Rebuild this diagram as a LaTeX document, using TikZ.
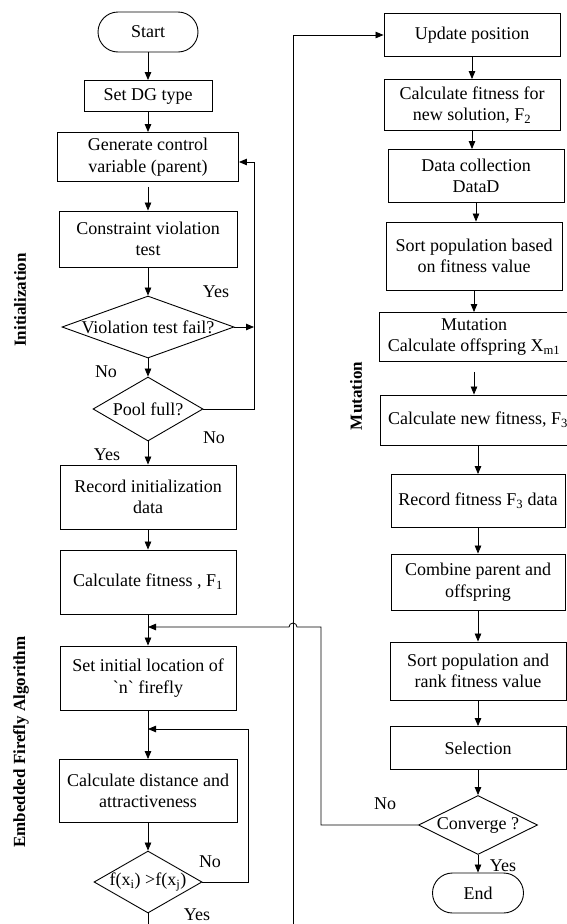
\documentclass[tikz,border=0pt]{standalone}
\usepackage{fontspec}
\setmainfont{Liberation Serif}
\newfontfamily\rawfont{Liberation Serif}
\usetikzlibrary{shapes.geometric,arrows.meta}

\begin{document}
\begin{tikzpicture}[x=1pt, y=-1pt, >={Triangle[length=8pt,width=6.5pt]},
  every node/.style={font=\fontsize{18}{21.5}\selectfont},
  box/.style={draw, line width=0.9pt, align=center, inner sep=0pt},
  term/.style={box, rounded corners=20pt, minimum height=40pt},
  decision/.style={draw, diamond, line width=0.9pt, inner sep=0pt},
  sidelabel/.style={rotate=90, font=\fontsize{17}{20}\selectfont\bfseries}]

 \useasboundingbox (0,0) rectangle (567,924);

 %left column
 \node[term, minimum width=100pt] (start) at (148,32) {Start};
 \node[box, minimum width=128pt, minimum height=31pt] (dg) at (148,96) {Set DG type};
 \node[box, minimum width=181pt, minimum height=49pt] (gen) at (148,157) {Generate control\\variable (parent)};
 \node[box, minimum width=178pt, minimum height=56pt] (cons) at (148,239) {Constraint violation\\test};
 \node[decision, minimum width=172pt, minimum height=62pt] (viol) at (148,327) {\makebox[0pt]{Violation test fail?}};
 \node[decision, minimum width=110pt, minimum height=64pt] (pool) at (148,409) {\makebox[0pt]{Pool full?}};
 \node[box, minimum width=176pt, minimum height=64pt] (rec) at (148,497) {Record initialization\\data};
 \node[box, minimum width=176pt, minimum height=64pt] (fit1) at (148,582) {Calculate fitness , F\textsubscript{1}};
 \node[box, minimum width=176pt, minimum height=64pt] (setloc) at (148,678) {Set initial location of\\{\rawfont`n`} firefly};
 \node[box, minimum width=178pt, minimum height=63pt] (dist) at (148,791) {Calculate distance and\\attractiveness};
 \node[decision, minimum width=108pt, minimum height=62pt] (fx) at (148,882) {\makebox[0pt]{f(x\textsubscript{i}) >f(x\textsubscript{j})}};

 %right column
 \node[box, minimum width=176pt, minimum height=43pt] (upd) at (472,35) {Update position};
 \node[box, minimum width=176pt, minimum height=51pt] (f2) at (472,105) {Calculate fitness for\\new solution, F\textsubscript{2}};
 \node[box, minimum width=176pt, minimum height=53pt] (dd) at (476,176) {Data collection\\DataD};
 \node[box, minimum width=176pt, minimum height=68pt] (sorta) at (474,256) {Sort population based\\on fitness value};
 \node[box, minimum width=190pt, minimum height=49pt] (mut) at (474,337) {Mutation\\Calculate offspring X\textsubscript{m1}};
 \node[box, minimum width=196pt, minimum height=50pt] (f3) at (478,420) {Calculate new fitness, F\textsubscript{3}};
 \node[box, minimum width=174pt, minimum height=53pt] (recf) at (478,501) {Record fitness F\textsubscript{3} data};
 \node[box, minimum width=174pt, minimum height=56pt] (comb) at (478,582) {Combine parent and\\offspring};
 \node[box, minimum width=176pt, minimum height=58pt] (sortb) at (478,671) {Sort population and\\rank fitness value};
 \node[box, minimum width=176pt, minimum height=43pt] (sel) at (478,748) {Selection};
 \node[decision, minimum width=119pt, minimum height=59pt] (conv) at (478,825) {\makebox[0pt]{Converge ?}};
 \node[term, minimum width=91pt] (end) at (478,893) {End};

 % yes / no
 \foreach \n/\x/\y/\txt in {y1/216/292/Yes, n1/106/372/No, n2/214/438/No, y2/107/455/Yes,
        n3/210/862/No, y3/197/915/Yes, n4/385/804/No, y4/503/866/Yes}
        \node (\n) at (\x,\y) {\txt};

 \node[sidelabel] (lbinit) at (20,300) {Initialization};
 \node[sidelabel] (lbfire) at (21,742) {Embedded Firefly Algorithm};
 \node[sidelabel] (lbmut) at (356,396) {Mutation};

 % lines
 \foreach \a/\b in {start/dg, dg/gen, cons/viol, viol/pool, pool/rec, rec/fit1, fit1/setloc, setloc/dist, dist/fx,
        upd/f2, f2/dd, dd/sorta, sorta/mut, f3/recf, recf/comb, comb/sortb, sortb/sel, sel/conv, conv/end}
        \draw[->, line width=0.8pt] (\a.south) -- (\a.south |- \b.north);
 \draw[->, line width=0.8pt, shorten <=5pt] (gen.south) -- (cons.north);
 \draw[->, line width=0.8pt, shorten <=10pt] (mut.south) -- (mut.south |- f3.north);

 \coordinate (j1) at (148,627);
 \coordinate (j2) at (148,729);
 \coordinate (bot1) at (148,924);
 \coordinate (bot2) at (293,924);

 \draw[->, line width=0.8pt] (pool.east) -| (254,162) -- (gen.east |- 0,162);
 \draw[->, line width=0.8pt] (viol.east) -- (254,327);
 \draw[->, line width=0.8pt] (fx.east) -| (248,729) -- (j2);
 \draw[line width=0.8pt] (fx.south) -- (bot1);
 \draw[->, line width=0.8pt] (bot2) |- (upd.west);
 \draw[->, line width=0.8pt] (conv.west) -| (321,627) -- (297,627)
        arc[start angle=0, end angle=180, radius=4pt] -- (j1);

\end{tikzpicture}
\end{document}
